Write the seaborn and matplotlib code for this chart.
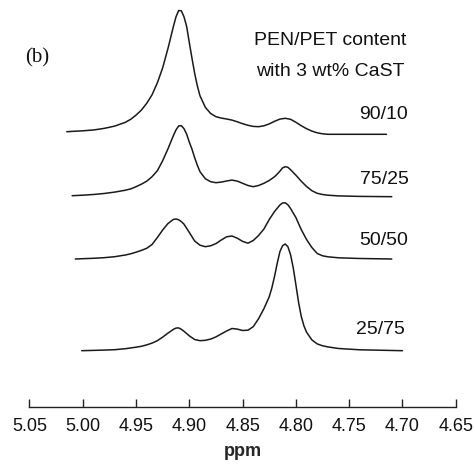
import numpy as np
import pandas as pd
import matplotlib
matplotlib.use("Agg")
import matplotlib.pyplot as plt
import seaborn as sns

# spectra: chemical shift (ppm) and height above each trace's baseline (a.u.)
ppm_9010 = [5.015, 5.00, 4.99, 4.98, 4.97, 4.96, 4.955, 4.95, 4.945, 4.94,
            4.935, 4.93, 4.925, 4.92, 4.915, 4.9125, 4.91, 4.9075, 4.905, 4.9025,
            4.90, 4.8975, 4.895, 4.8925, 4.89, 4.885, 4.88, 4.875, 4.87, 4.865,
            4.86, 4.855, 4.85, 4.845, 4.84, 4.835, 4.83, 4.825, 4.82, 4.815,
            4.81, 4.805, 4.80, 4.795, 4.79, 4.785, 4.78, 4.775, 4.77, 4.74,
            4.715]
int_9010 = [2.6, 3.5, 4.3, 5.9, 8.2, 12.0, 15.0, 19.2, 24.2, 31.0,
            39.5, 51.5, 66.5, 86.0, 107.6, 117.5, 123.8, 123.5, 117.5, 107.8,
            91.5, 76.0, 61.0, 48.5, 38.5, 27.0, 20.8, 17.6, 16.2, 15.3,
            14.2, 12.5, 10.6, 9.0, 7.9, 7.6, 8.5, 10.4, 13.0, 15.2,
            16.0, 15.0, 12.0, 8.6, 5.6, 3.2, 1.5, 0.5, 0.0, 0.0,
            0.0]

ppm_7525 = [5.01, 5.00, 4.99, 4.98, 4.97, 4.96, 4.955, 4.95, 4.945, 4.94,
            4.935, 4.93, 4.925, 4.92, 4.915, 4.9125, 4.91, 4.9075, 4.905, 4.9025,
            4.90, 4.8975, 4.895, 4.8925, 4.89, 4.885, 4.88, 4.875, 4.87, 4.865,
            4.86, 4.855, 4.85, 4.845, 4.84, 4.835, 4.83, 4.825, 4.82, 4.8175,
            4.815, 4.8125, 4.81, 4.8075, 4.805, 4.80, 4.795, 4.79, 4.785, 4.78,
            4.775, 4.77, 4.76, 4.74, 4.71]
int_7525 = [1.0, 1.5, 2.2, 3.2, 4.6, 6.5, 7.8, 10.0, 12.5, 15.5,
            20.0, 26.0, 36.0, 48.0, 61.0, 66.8, 70.8, 71.0, 68.0, 62.5,
            54.5, 47.5, 39.0, 31.5, 25.0, 18.0, 15.0, 14.0, 14.6, 15.7,
            16.6, 15.6, 13.4, 11.2, 10.0, 11.2, 13.4, 16.2, 20.0, 22.6,
            25.5, 28.8, 30.0, 29.4, 27.0, 21.5, 15.5, 10.2, 6.0, 3.4,
            2.2, 1.5, 0.8, 0.3, 0.0]

ppm_5050 = [5.007, 5.00, 4.99, 4.98, 4.97, 4.96, 4.955, 4.95, 4.945, 4.94,
            4.935, 4.93, 4.925, 4.92, 4.915, 4.9125, 4.91, 4.9075, 4.905, 4.90,
            4.895, 4.89, 4.885, 4.88, 4.875, 4.87, 4.865, 4.86, 4.855, 4.85,
            4.845, 4.84, 4.835, 4.83, 4.825, 4.82, 4.815, 4.8125, 4.81, 4.8075,
            4.805, 4.80, 4.795, 4.79, 4.785, 4.78, 4.775, 4.77, 4.76, 4.74,
            4.71]
int_5050 = [0.0, 0.3, 0.7, 1.3, 2.3, 4.0, 5.2, 6.8, 8.6, 10.7,
            14.5, 21.5, 29.0, 35.5, 39.6, 40.0, 39.2, 37.4, 34.8, 26.5,
            18.0, 13.8, 12.3, 13.2, 15.4, 19.0, 22.2, 23.0, 20.8, 17.6,
            15.8, 18.5, 23.5, 30.0, 39.5, 47.5, 54.0, 56.0, 56.2, 54.2,
            50.5, 41.5, 29.5, 19.5, 11.5, 5.5, 3.2, 2.2, 1.2, 0.5,
            0.0]

ppm_2575 = [5.001, 4.99, 4.98, 4.97, 4.96, 4.95, 4.945, 4.94, 4.935, 4.93,
            4.925, 4.92, 4.915, 4.9125, 4.91, 4.9075, 4.905, 4.90, 4.895, 4.89,
            4.885, 4.88, 4.875, 4.87, 4.865, 4.86, 4.855, 4.85, 4.845, 4.84,
            4.835, 4.83, 4.825, 4.8225, 4.82, 4.8175, 4.815, 4.8125, 4.81, 4.8075,
            4.805, 4.8025, 4.80, 4.7975, 4.795, 4.7925, 4.79, 4.785, 4.78, 4.775,
            4.77, 4.76, 4.74, 4.70]
int_2575 = [0.0, 0.3, 0.6, 1.0, 2.0, 3.5, 4.4, 5.8, 7.6, 10.0,
            13.6, 17.6, 21.3, 22.6, 22.8, 21.4, 19.4, 14.8, 11.2, 10.0,
            10.4, 11.6, 13.8, 16.8, 19.7, 22.2, 21.6, 20.2, 20.5, 24.0,
            32.0, 42.0, 54.0, 63.0, 74.5, 87.5, 99.0, 105.0, 106.7, 104.0,
            96.0, 83.0, 66.0, 48.5, 34.5, 25.0, 18.5, 10.8, 6.8, 4.9,
            3.8, 2.2, 0.9, 0.0]

labels = ["90/10", "75/25", "50/50", "25/75"]
tick_vals = [5.05, 5.00, 4.95, 4.90, 4.85, 4.80, 4.75, 4.70, 4.65]

# stacking (vertical shift of each trace) and label placement
offsets = [216.4, 154.0, 91.7, 0.0]
label_xy = [(4.718, 235.7), (4.717, 170.7), (4.718, 110.0), (4.721, 20.7)]

sns.set_style("white")
plt.rcParams["font.family"] = ["Liberation Sans", "DejaVu Sans"]

fig = plt.figure(figsize=(4.75, 4.68), dpi=100)
ax = fig.add_axes([0.0621, 0.131, 0.8973, 0.869])

traces = [(ppm_9010, int_9010), (ppm_7525, int_7525),
          (ppm_5050, int_5050), (ppm_2575, int_2575)]
for (x, y), off, lab, (lx, ly) in zip(traces, offsets, labels, label_xy):
    df = pd.DataFrame({"ppm": x, "signal": np.array(y) + off})
    sns.lineplot(data=df, x="ppm", y="signal", color="#1a1a1a", lw=1.1,
                 sort=False, ax=ax, solid_joinstyle="round")
    ax.text(lx, ly, lab, ha="center", va="center", fontsize=14, color="#111111")

ax.text(4.768, 310, "PEN/PET content", ha="center", va="center", fontsize=14, color="#111111")
ax.text(4.768, 279, "with 3 wt% CaST", ha="center", va="center", fontsize=14, color="#111111")
ax.text(5.0425, 292.7, "(b)", ha="center", va="center", fontsize=15,
        family="Liberation Serif", color="#111111")

ax.set_xlim(5.05, 4.65)
ax.set_ylim(-56, 350.7)
ax.set_xticks(tick_vals)
ax.set_xticklabels([f"{v:.2f}" for v in tick_vals])
ax.set_yticks([])
for s in ["top", "left", "right"]:
    ax.spines[s].set_visible(False)
ax.spines["bottom"].set_color("#222222")
ax.spines["bottom"].set_linewidth(1.0)
ax.tick_params(axis="x", bottom=True, direction="in", length=5.5, width=1.0,
               color="#222222", labelsize=13, pad=8, labelcolor="#111111")
ax.set_xlabel("ppm", fontsize=13, fontweight="bold", labelpad=6)
ax.set_ylabel("")
ax.patch.set_alpha(0)

fig.savefig("out.png", dpi=100)
